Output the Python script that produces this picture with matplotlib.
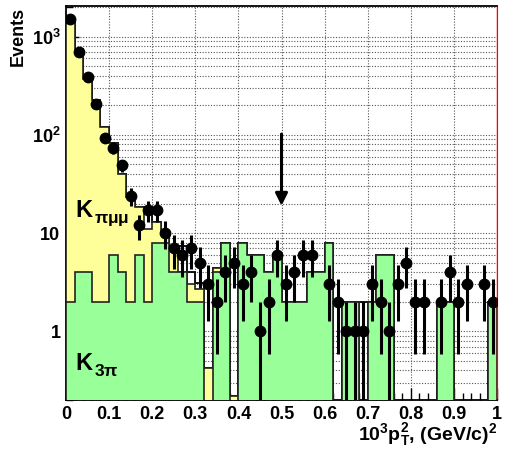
import numpy as np
import matplotlib
matplotlib.use("Agg")
import matplotlib.pyplot as plt
from matplotlib.ticker import FixedLocator, NullFormatter

plt.rcParams['font.family'] = ['Liberation Sans', 'DejaVu Sans']
plt.rcParams['font.weight'] = 'bold'
plt.rcParams['mathtext.fontset'] = 'custom'
plt.rcParams['mathtext.rm'] = 'Liberation Sans:bold'
plt.rcParams['mathtext.it'] = 'Liberation Sans:bold'
plt.rcParams['mathtext.bf'] = 'Liberation Sans:bold'

# 50 bins of 0.02 in 10^3 pT^2
bin_edges = np.linspace(0.0, 1.0, 51)

# data counts per bin
data_counts = [1527, 698, 388, 207, 92, 73, 49, 24, 12, 17,
               17, 10, 7, 6, 7, 5, 3, 2, 4, 5,
               3, 4, 1, 2, 6, 3, 4, 6, 6, 0,
               3, 2, 1, 1, 1, 3, 2, 1, 3, 5,
               2, 2, 0, 2, 4, 2, 3, 0, 3, 2]

# MC total (black outline)
mc_total = [1432, 755, 373, 228, 120, 82, 40, 23.5, 18.3, 18.5,
            13, 10, 7.4, 7.4, 4, 3.1, 0.42, 4.4, 8, 0.22,
            8, 6, 6, 4, 6, 2, 2, 2, 4, 4,
            8, 0, 2, 2, 2, 2, 6, 6, 0, 0,
            0, 0, 0, 2, 2, 0, 0, 0, 0, 2]

# K pi mu mu + K 3pi (yellow)
mc_kpimumu = [1432, 755, 373, 228, 120, 82, 40, 23.5, 18.3, 11,
              13, 10, 7.4, 4, 3, 2.7, 0.42, 4.4, 8, 0.22,
              8, 6, 6, 4, 6, 2, 2, 2, 4, 4,
              8, 0, 2, 2, 0, 2, 6, 6, 0, 0,
              0, 0, 0, 2, 2, 0, 0, 0, 0, 2]

# K 3pi (green)
mc_k3pi = [2, 4, 4, 2, 2, 6, 4, 2, 6, 2,
           8, 8, 4, 4, 2, 2, 0, 4, 8, 0,
           8, 6, 6, 4, 6, 2, 2, 2, 4, 4,
           8, 0, 2, 2, 0, 2, 6, 6, 0, 0,
           0, 0, 0, 2, 2, 0, 0, 0, 0, 2]

y_min, y_max = 0.2, 2050

fig = plt.figure(figsize=(5.09, 4.49), dpi=100)
ax = fig.add_axes([0.1297, 0.1091, 0.8467, 0.8775])
ax.set_yscale('log')

base = 1e-3
ax.stairs(mc_total, bin_edges, baseline=base, fill=False, color='black', lw=1.3, zorder=2)
ax.stairs(mc_kpimumu, bin_edges, baseline=base, fill=True, facecolor='#ffff99',
          edgecolor='#222222', lw=1.2, zorder=3)
ax.stairs(mc_k3pi, bin_edges, baseline=base, fill=True, facecolor='#99ff99',
          edgecolor='#222222', lw=1.2, zorder=4)

centers = 0.5 * (bin_edges[:-1] + bin_edges[1:])
cnt = np.array(data_counts, dtype=float)
mask = cnt > 0
err = np.sqrt(cnt[mask])
lo = np.minimum(err, cnt[mask] - 1e-4)
ax.errorbar(centers[mask], cnt[mask], yerr=[lo, err], fmt='o', color='black',
            ms=7.5, elinewidth=2.2, capsize=0, zorder=6)

# cut arrow
ax.annotate('', xy=(0.5, 19), xytext=(0.5, 102),
            arrowprops=dict(arrowstyle='-|>', color='black', lw=2.2,
                            mutation_scale=18, shrinkA=0, shrinkB=0), zorder=7)

ax.axvline(1.0, color='red', lw=1.0, zorder=8)

ax.set_xlim(0, 1)
ax.set_ylim(y_min, y_max)

ax.set_xticks(np.arange(0, 1.01, 0.1))
ax.set_xticklabels(['0', '0.1', '0.2', '0.3', '0.4', '0.5', '0.6', '0.7', '0.8', '0.9', '1'])
ax.xaxis.set_minor_locator(FixedLocator(np.arange(0, 1.001, 0.02)))
ax.set_yticks([1, 10, 100, 1000])
ax.set_yticklabels(['1', '10', r'$10^{2}$', r'$10^{3}$'])
minor_y = [m * 10.0 ** e for e in range(-1, 4) for m in range(2, 10)]
minor_y = [v for v in minor_y if y_min <= v <= y_max]
ax.yaxis.set_minor_locator(FixedLocator(minor_y))
ax.yaxis.set_minor_formatter(NullFormatter())

# grid
for v in [1, 10, 100, 1000] + minor_y:
    ax.axhline(v, color='#555555', lw=0.8, ls=(0, (1, 1.5)), zorder=1)
for v in np.arange(0.1, 1.0, 0.1):
    ax.axvline(v, color='#555555', lw=0.8, ls=(0, (1, 1.5)), zorder=1)

ax.tick_params(axis='both', which='major', direction='in', length=9, width=1,
               labelsize=13, pad=4, top=False, right=False)
ax.tick_params(axis='both', which='minor', direction='in', length=5, width=1,
               top=False, right=False)
for lab in ax.get_xticklabels() + ax.get_yticklabels():
    lab.set_fontweight('bold')
for s in ['left', 'bottom', 'top']:
    ax.spines[s].set_linewidth(1.3)
ax.spines['right'].set_color('red')

# component labels: big K with a large subscript
for ypos, sub in [(14.5, r'$\pi\mu\mu$'), (0.40, r'$3\pi$')]:
    ax.text(0.022, ypos, 'K', fontsize=17, fontweight='bold', zorder=9)
    ax.annotate(sub, xy=(0.022, ypos), xytext=(13, -4), textcoords='offset points',
                fontsize=12.5, fontweight='bold', zorder=9)

fig.text(0.035, 0.985, 'Events', rotation=90, ha='center', va='top',
         fontsize=13, fontweight='bold')
fig.text(0.976, 0.002, r'10$^{3}$p$_{T}^{2}$, (GeV/c)$^{2}$', ha='right',
         va='bottom', fontsize=14, fontweight='bold')

fig.savefig('out.png', dpi=100)
